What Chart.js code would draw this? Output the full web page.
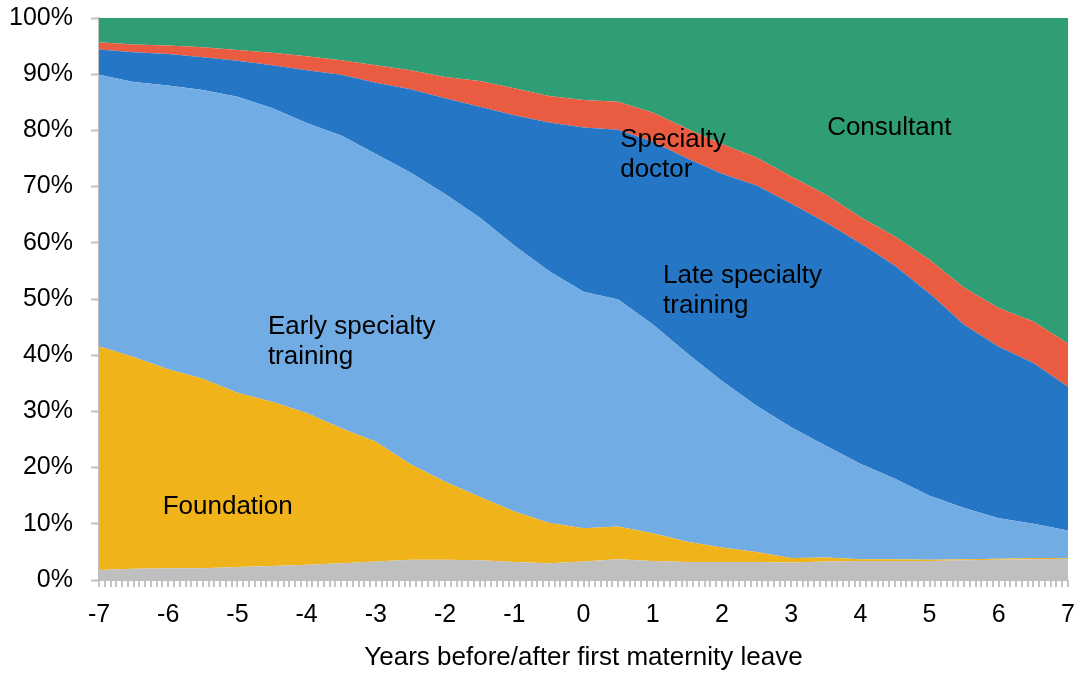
<!DOCTYPE html>
<html>
<head>
<meta charset="utf-8">
<script src="https://cdn.jsdelivr.net/npm/chart.js@4"></script>
<style>
 body{margin:0;background:#fff;}
 #wrap{width:1076px;height:673px;}
</style>
</head>
<body>
<div id="wrap"><canvas id="chart"></canvas></div>
<script>
// years relative to first maternity leave (half-year readings)
const years=[-7,-6.5,-6,-5.5,-5,-4.5,-4,-3.5,-3,-2.5,-2,-1.5,-1,-0.5,0,0.5,1,1.5,2,2.5,3,3.5,4,4.5,5,5.5,6,6.5,7];

// share of doctors in each grade, %
const other=[1.8,2.0,2.1,2.1,2.3,2.5,2.7,3.0,3.3,3.6,3.6,3.5,3.2,3.0,3.3,3.7,3.4,3.2,3.2,3.2,3.1,3.3,3.4,3.4,3.4,3.5,3.6,3.7,3.8];
const foundation=[39.8,37.7,35.4,33.7,31.0,29.2,27.0,24.0,21.3,17.0,13.9,11.3,9.0,7.2,5.9,5.8,4.9,3.6,2.6,1.8,0.8,0.7,0.3,0.3,0.2,0.2,0.2,0.2,0.1];
const earlyTraining=[48.3,48.9,50.5,51.4,52.7,52.3,51.6,52.1,51.2,51.9,51.2,49.7,47.3,44.8,42.1,40.4,37.2,33.5,29.6,26.0,23.3,19.9,17.0,14.3,11.4,9.1,7.2,6.1,4.9];
const lateTraining=[4.5,5.3,5.6,5.8,6.4,7.6,9.4,10.8,12.7,14.8,17.0,19.7,23.2,26.4,29.2,30.2,32.5,34.7,36.9,39.2,39.8,39.7,39.2,37.9,36.0,32.6,30.5,28.6,25.6];
const specialtyDoctor=[1.3,1.4,1.5,1.8,1.9,2.2,2.5,2.6,3.1,3.4,3.8,4.6,4.8,4.7,4.9,5.0,5.2,5.3,5.3,5.0,4.8,5.0,4.7,5.2,6.0,6.6,6.9,7.4,7.7];
const consultant=[4.3,4.7,4.9,5.2,5.7,6.2,6.8,7.5,8.4,9.3,10.5,11.2,12.5,13.9,14.6,14.9,16.8,19.7,22.4,24.8,28.2,31.4,35.4,38.9,43.0,48.0,51.6,54.0,57.9];

const yearTicks=[-7,-6,-5,-4,-3,-2,-1,0,1,2,3,4,5,6,7];
const yTicks=[0,10,20,30,40,50,60,70,80,90,100];

// labels drawn inside the areas: [text lines, x (years), y (%) of first line]
const areaLabels=[
 {lines:["Consultant"],x:3.52,y:80.4},
 {lines:["Specialty","doctor"],x:0.53,y:78.3},
 {lines:["Late specialty","training"],x:1.15,y:54.1},
 {lines:["Early specialty","training"],x:-4.56,y:45.1},
 {lines:["Foundation"],x:-6.08,y:13.0}
];

const FONT="'Liberation Sans', Arial, sans-serif";

function pts(arr){
 return years.map((x,i)=>({x:x,y:arr[i]}));
}

const series=[
 {label:"Other",data:other,color:"#bfbfbf"},
 {label:"Foundation",data:foundation,color:"#f0b41a"},
 {label:"Early specialty training",data:earlyTraining,color:"#71ace4"},
 {label:"Late specialty training",data:lateTraining,color:"#2577c6"},
 {label:"Specialty doctor",data:specialtyDoctor,color:"#ea5c41"},
 {label:"Consultant",data:consultant,color:"#2f9e74"}
];

const labelPlugin={
 id:"areaLabels",
 afterDatasetsDraw(chart){
  const ctx=chart.ctx;
  const xs=chart.scales.x, ys=chart.scales.y;
  ctx.save();
  ctx.font="26px "+FONT;
  ctx.fillStyle="#000";
  ctx.textAlign="left";
  ctx.textBaseline="middle";
  areaLabels.forEach(l=>{
   const px=xs.getPixelForValue(l.x);
   const py=ys.getPixelForValue(l.y);
   l.lines.forEach((t,i)=>ctx.fillText(t,px,py+i*30));
  });
  ctx.restore();
 }
};

const monthTicks=[];
for(let i=0;i<=168;i++) monthTicks.push({value:-7+i/12});

new Chart(document.getElementById("chart"),{
 type:"line",
 data:{
  datasets:series.map((s,i)=>({
   label:s.label,
   data:pts(s.data),
   backgroundColor:s.color,
   borderColor:s.color,
   borderWidth:0,
   pointRadius:0,
   tension:0,
   fill:i===0?"origin":"-1"
  }))
 },
 options:{
  responsive:true,
  maintainAspectRatio:false,
  animation:false,
  layout:{padding:{top:18,right:8,left:0,bottom:0}},
  plugins:{legend:{display:false},tooltip:{enabled:false}},
  scales:{
   x:{
    type:"linear",
    min:-7,max:7,
    afterBuildTicks:axis=>{axis.ticks=monthTicks.map(t=>({value:t.value}));},
    afterFit:axis=>{axis.height=93;axis.paddingLeft=0;axis.paddingRight=0;},
    ticks:{
     autoSkip:false,
     maxRotation:0,
     padding:13,
     color:"#000",
     font:{family:FONT,size:25},
     callback:v=>{
      const r=Math.round(v);
      return Math.abs(v-r)<1e-6 && yearTicks.includes(r)?String(r):"";
     }
    },
    grid:{drawOnChartArea:false,drawTicks:true,tickLength:7,color:"#c4c4c4",lineWidth:2},
    border:{display:true,color:"#bfbfbf",width:1},
    title:{display:true,text:"Years before/after first maternity leave",color:"#000",
     font:{family:FONT,size:26},padding:{top:0,bottom:0}}
   },
   y:{
    stacked:true,
    min:0,max:100,
    afterBuildTicks:axis=>{axis.ticks=yTicks.map(v=>({value:v}));},
    afterFit:axis=>{axis.width=99;axis.paddingTop=0;axis.paddingBottom=0;},
    ticks:{
     color:"#000",
     padding:18,
     font:{family:FONT,size:25},
     callback:v=>v+"%"
    },
    grid:{color:"#d0d0d0",lineWidth:1,tickColor:"#bfbfbf",tickWidth:2,tickLength:8},
    border:{display:true,color:"#bfbfbf",width:2,dash:[5,4]}
   }
  }
 },
 plugins:[labelPlugin]
});
</script>
</body>
</html>
